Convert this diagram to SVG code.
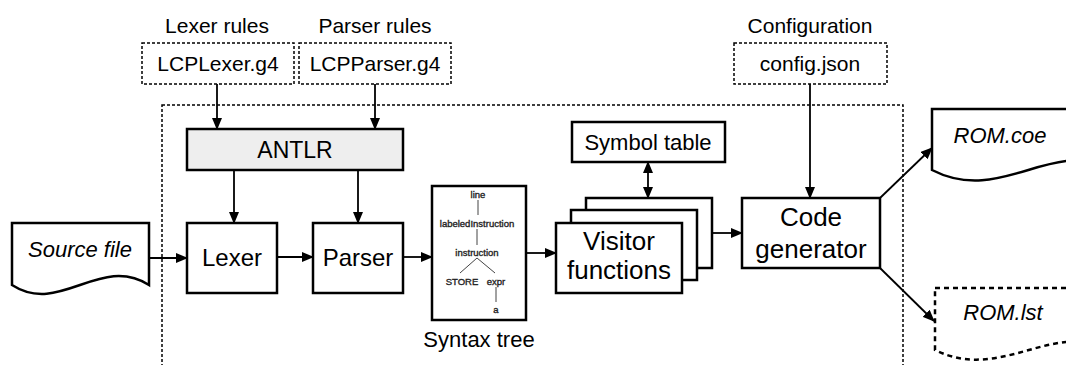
<svg xmlns="http://www.w3.org/2000/svg" width="1066" height="365" viewBox="0 0 1066 365">
<style>
text{font-family:"Liberation Sans",Arial,sans-serif;fill:#000;text-anchor:middle}
.box{fill:#fff;stroke:#000;stroke-width:2.5}
.dbox{fill:#fff;stroke:#000;stroke-width:1.5;stroke-dasharray:3,2}
.con{fill:none;stroke:#000;stroke-width:1.8}
.tree text{font-size:9.5px;fill:#222;stroke:#222;stroke-width:0.35}
.tree line{stroke:#444;stroke-width:1}
</style>
<defs>
<marker id="ah" markerWidth="12" markerHeight="10" refX="11" refY="5" orient="auto" markerUnits="userSpaceOnUse">
<path d="M0,0 L12,5 L0,10 Z" fill="#000"/>
</marker>
<marker id="ahs" markerWidth="12" markerHeight="10" refX="1" refY="5" orient="auto" markerUnits="userSpaceOnUse">
<path d="M12,0 L0,5 L12,10 Z" fill="#000"/>
</marker>
</defs>

<rect id="container" x="162" y="105" width="741" height="280" fill="none" stroke="#000" stroke-width="1.5" stroke-dasharray="3,2"/>

<g id="lexer-rules">
<text x="217" y="33" font-size="21">Lexer rules</text>
<rect class="dbox" x="142" y="43" width="152" height="41"/>
<text x="218" y="71" font-size="21">LCPLexer.g4</text>
</g>
<g id="parser-rules">
<text x="375" y="33" font-size="21">Parser rules</text>
<rect class="dbox" x="299" y="43" width="152" height="41"/>
<text x="375" y="71" font-size="21">LCPParser.g4</text>
</g>
<g id="configuration">
<text x="810" y="33" font-size="21">Configuration</text>
<rect class="dbox" x="734" y="43" width="153" height="41"/>
<text x="810" y="71" font-size="21">config.json</text>
</g>

<g id="antlr">
<rect x="187" y="129" width="216" height="41" fill="#eeeeee" stroke="#000" stroke-width="2.5"/>
<text x="295" y="158" font-size="23">ANTLR</text>
</g>

<g id="source-file">
<path class="box" d="M12,223 H149 V285 C100,254 60,316 12,285 Z"/>
<text x="80" y="257" font-size="22" font-style="italic">Source file</text>
</g>

<g id="lexer">
<rect class="box" x="187" y="223" width="90" height="70"/>
<text x="232" y="266" font-size="24">Lexer</text>
</g>

<g id="parser">
<rect class="box" x="313" y="223" width="90" height="70"/>
<text x="358" y="266" font-size="24">Parser</text>
</g>

<g id="syntax-tree">
<rect class="box" x="432" y="186" width="94" height="134"/>
<g class="tree">
<text x="478" y="198">line</text>
<line x1="478" y1="200" x2="478" y2="215"/>
<text x="477" y="227">labeledInstruction</text>
<line x1="477" y1="229" x2="477" y2="245"/>
<text x="477" y="256">instruction</text>
<line x1="477" y1="258" x2="460" y2="273"/>
<line x1="477" y1="258" x2="495" y2="273"/>
<text x="462" y="285">STORE</text>
<text x="496" y="285">expr</text>
<line x1="496" y1="287" x2="496" y2="302"/>
<text x="496" y="313">a</text>
</g>
<text x="479" y="347" font-size="22">Syntax tree</text>
</g>

<g id="symbol-table">
<rect class="box" x="572" y="122" width="153" height="40"/>
<text x="648" y="150" font-size="22">Symbol table</text>
</g>

<g id="visitor-functions">
<rect class="box" x="586" y="198" width="126" height="70"/>
<rect class="box" x="571" y="210" width="126" height="70"/>
<rect class="box" x="556" y="223" width="126" height="70"/>
<text x="619" y="250" font-size="26">Visitor</text>
<text x="619" y="279" font-size="26">functions</text>
</g>

<g id="code-generator">
<rect class="box" x="742" y="198" width="138" height="70"/>
<text x="811" y="226" font-size="26">Code</text>
<text x="811" y="258" font-size="26">generator</text>
</g>

<g id="rom-coe">
<path class="box" d="M932,109 H1110 V168 C1050,139 1000,205 932,170 Z"/>
<text x="1000" y="143" font-size="22" font-style="italic">ROM.coe</text>
</g>

<g id="rom-lst">
<path d="M935,288 H1110 V348 C1050,322 1000,382 935,350 Z" fill="#fff" stroke="#000" stroke-width="2.5" stroke-dasharray="5,4"/>
<text x="1003" y="320" font-size="22" font-style="italic">ROM.lst</text>
</g>

<g id="connectors">
<line class="con" x1="217" y1="84" x2="217" y2="129" marker-end="url(#ah)"/>
<line class="con" x1="375" y1="84" x2="375" y2="129" marker-end="url(#ah)"/>
<line class="con" x1="234" y1="170" x2="234" y2="223" marker-end="url(#ah)"/>
<line class="con" x1="358" y1="170" x2="358" y2="223" marker-end="url(#ah)"/>
<line class="con" x1="149" y1="258" x2="187" y2="258" marker-end="url(#ah)"/>
<line class="con" x1="277" y1="257" x2="313" y2="257" marker-end="url(#ah)"/>
<line class="con" x1="403" y1="257" x2="432" y2="257" marker-end="url(#ah)"/>
<line class="con" x1="526" y1="253" x2="556" y2="253" marker-end="url(#ah)"/>
<line class="con" x1="648" y1="162" x2="648" y2="198" marker-start="url(#ahs)" marker-end="url(#ah)"/>
<line class="con" x1="712" y1="233" x2="742" y2="233" marker-end="url(#ah)"/>
<line class="con" x1="810" y1="84" x2="810" y2="198" marker-end="url(#ah)"/>
<line class="con" x1="880" y1="198" x2="932" y2="148" marker-end="url(#ah)"/>
<line class="con" x1="880" y1="268" x2="934" y2="321" marker-end="url(#ah)"/>
</g>
</svg>
